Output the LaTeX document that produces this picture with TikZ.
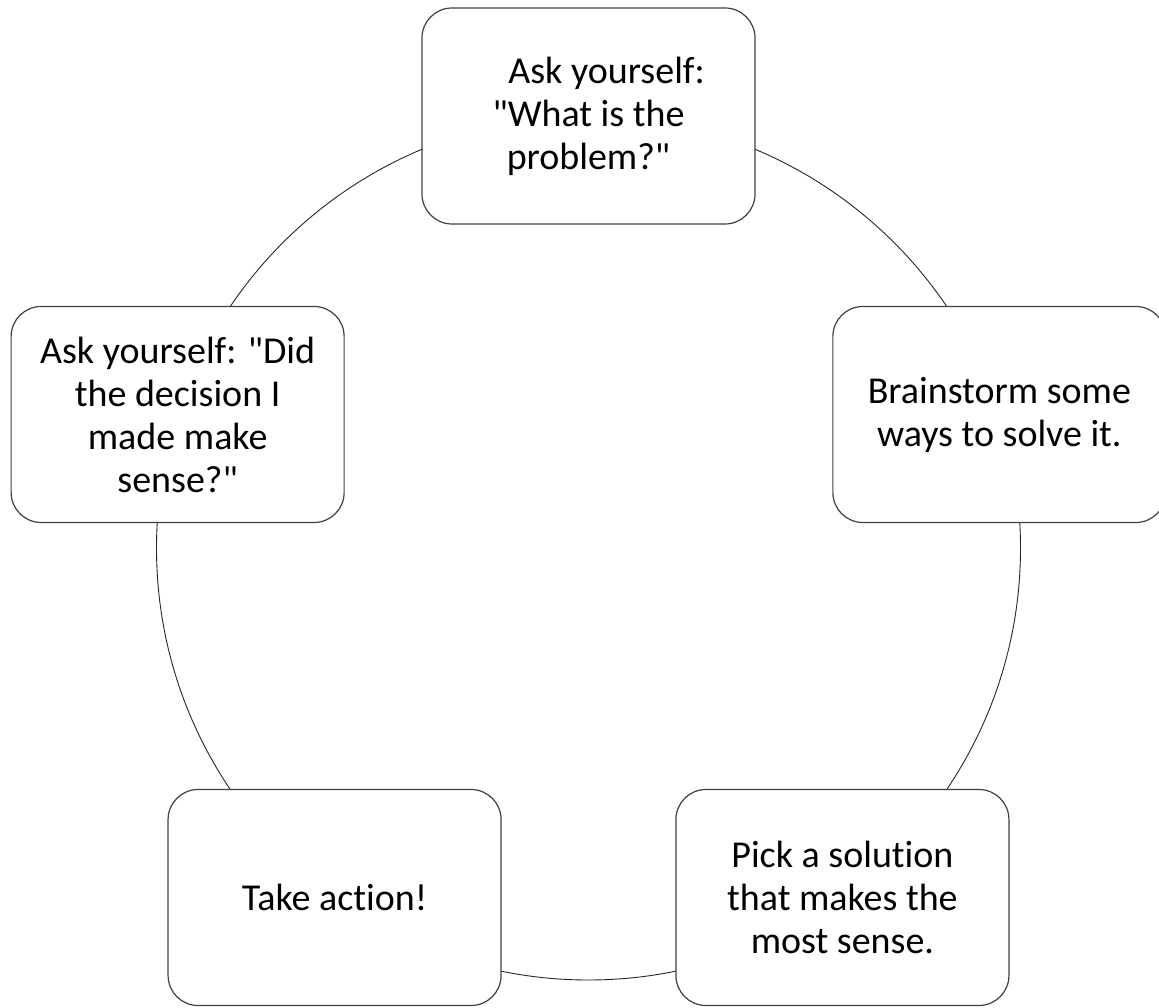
\documentclass[tikz,border=0pt]{standalone}
\usepackage{fontspec}
\setmainfont{Carlito}[Ligatures={TeXOff,CommonOff}]
\begin{document}
\begin{tikzpicture}[x=1pt,y=1pt,line join=round,line cap=round,
	stepbox/.style={draw=black!75,line width=1.2pt,fill=white,rounded corners=30pt,minimum width=333pt,minimum height=216pt,align=center,font=\fontsize{38}{43}\selectfont}]
	\useasboundingbox (0,0) rectangle (1159,1007);
	\coordinate (c) at (588.5,459);
	% the cycle
	\draw[line width=0.9pt,black!85] (c) circle[radius=432pt];
	% the five steps, a regular pentagon on the circle
	\node[stepbox] (problem) at ([shift={(90:432pt)}]c) {\hspace*{36pt}Ask yourself:\\"What is the\\problem?"};
	\node[stepbox] (brainstorm) at ([shift={(18:432pt)}]c) {Brainstorm some\\ways to solve it.};
	\node[stepbox] (pick) at ([shift={(-54:432pt)}]c) {Pick a solution\\that makes the\\most sense.};
	\node[stepbox] (action) at ([shift={(-126:432pt)}]c) {Take action!};
	\node[stepbox] (review) at ([shift={(162:432pt)}]c) {Ask yourself: "Did\\the decision I\\made make\\sense?"};
\end{tikzpicture}
\end{document}
